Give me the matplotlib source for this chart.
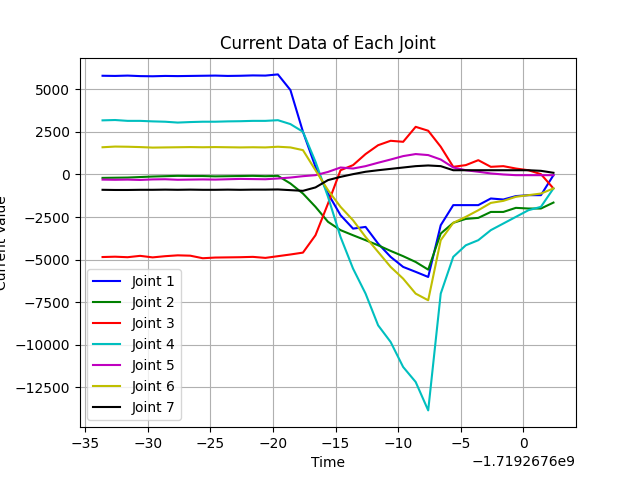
import numpy as np
import matplotlib
matplotlib.use("Agg")
import matplotlib.pyplot as plt

base_time = -1719267600.0
t_rel = [-33.6 + k for k in range(37)]

joint1 = [5800, 5790, 5810, 5780, 5770, 5790, 5780, 5790, 5800, 5810, 5790, 5800, 5820, 5810,
          5880, 4960, 2510, 450, -1120, -2390, -3180, -3080, -4060, -4840, -5430, -5720, -6020,
          -2980, -1800, -1800, -1800, -1410, -1470, -1270, -1215, -1215, -40]
joint2 = [-200, -190, -180, -150, -120, -100, -80, -90, -90, -110, -100, -90, -80, -100,
          -80, -530, -1120, -1900, -2780, -3270, -3570, -3860, -4160, -4490, -4800, -5140, -5590,
          -3470, -2840, -2610, -2550, -2200, -2200, -1960, -2000, -2000, -1650]
joint3 = [-4850, -4830, -4860, -4780, -4870, -4800, -4750, -4770, -4920, -4880, -4870, -4860, -4840, -4900,
          -4800, -4700, -4590, -3570, -1710, 250, 550, 1200, 1720, 1980, 1920, 2800, 2570,
          1630, 450, 550, 840, 450, 490, 350, 250, 20, -820]
joint4 = [3180, 3200, 3150, 3150, 3120, 3100, 3050, 3080, 3100, 3100, 3120, 3130, 3150, 3150,
          3190, 2960, 2510, 750, -1310, -3670, -5530, -7000, -8860, -9840, -11310, -12190, -13860,
          -7000, -4840, -4160, -3860, -3270, -2880, -2490, -2100, -1900, -820]
joint5 = [-300, -310, -300, -320, -290, -280, -310, -300, -290, -300, -280, -260, -270, -280,
          -235, -180, -100, -40, 150, 410, 350, 490, 690, 880, 1080, 1200, 1140,
          880, 410, 250, 160, 60, 0, -40, -40, -40, -40]
joint6 = [1600, 1640, 1630, 1610, 1580, 1590, 1600, 1610, 1600, 1610, 1600, 1590, 1600, 1590,
          1630, 1590, 1430, 250, -920, -1900, -2690, -3670, -4550, -5430, -6120, -7000, -7390,
          -3860, -2840, -2490, -2100, -1670, -1550, -1310, -1215, -1120, -820]
joint7 = [-900, -910, -910, -900, -900, -890, -900, -890, -900, -900, -890, -900, -890, -890,
          -880, -920, -960, -760, -330, -140, 20, 160, 250, 330, 410, 490, 530,
          490, 250, 250, 250, 250, 250, 250, 250, 215, 100]

joints = [joint1, joint2, joint3, joint4, joint5, joint6, joint7]
colors = ['b', 'g', 'r', 'c', 'm', 'y', 'k']

x = base_time + np.array(t_rel)

fig, ax = plt.subplots(figsize=(6.4, 4.8), dpi=100)
for i, (vals, c) in enumerate(zip(joints, colors)):
    ax.plot(x, vals, color=c, label=f'Joint {i + 1}')
ax.set_title('Current Data of Each Joint')
ax.set_xlabel('Time')
ax.set_ylabel('Current Value')
ax.grid(True)
ax.legend(loc='lower left')
fig.savefig('out.png')
